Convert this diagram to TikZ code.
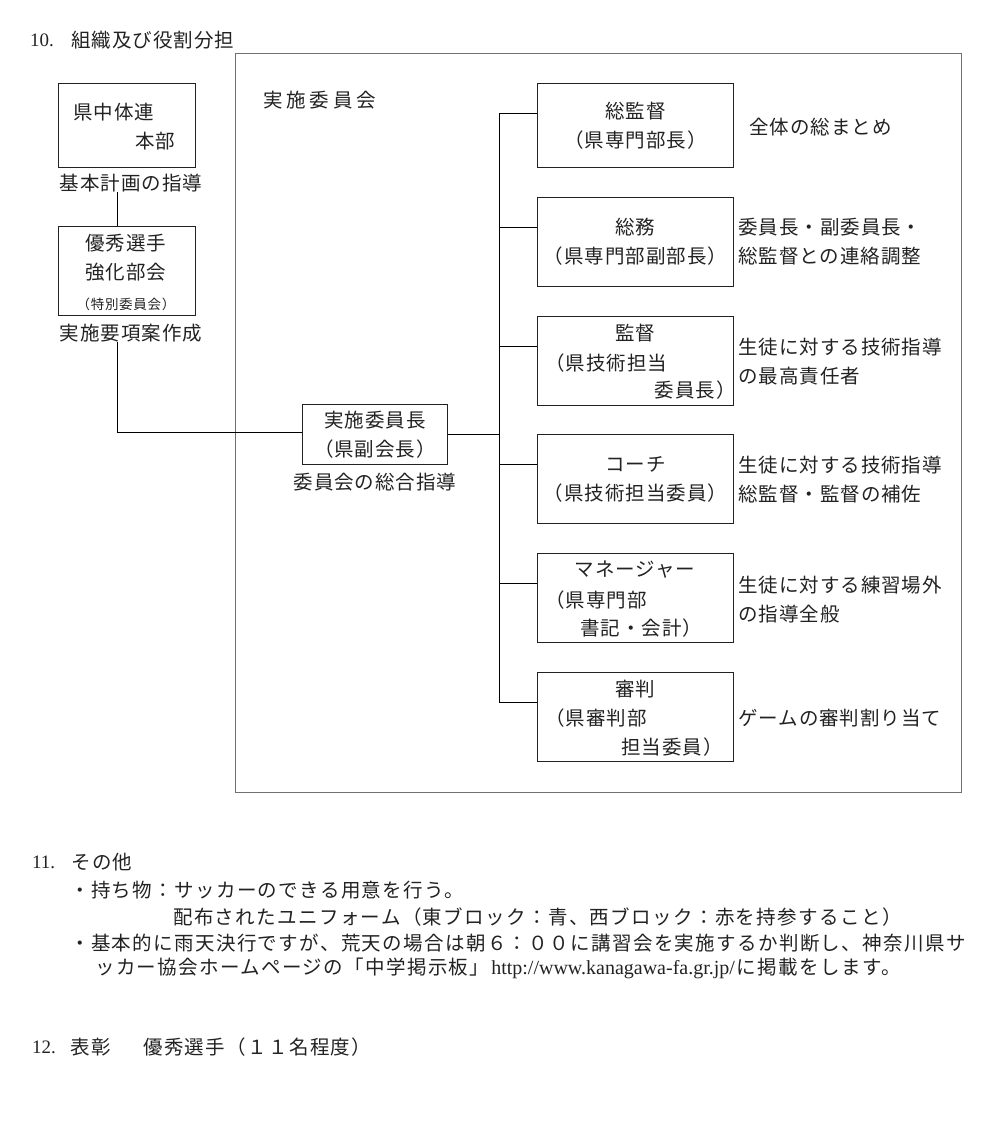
\documentclass[tikz,border=0pt]{standalone}
\usepackage{fontspec}
\usepackage{tikz}
\usetikzlibrary{positioning}
\setmainfont{Liberation Serif}
\newfontfamily\jp{Noto Sans CJK JP}[LetterSpace=5]
\newfontfamily\jpbody{Noto Sans CJK JP}[LetterSpace=7]
\newfontfamily\jpwide{Noto Sans CJK JP}[LetterSpace=20]
\definecolor{inkgray}{HTML}{222222}
\definecolor{framegray}{HTML}{707070}
\newcommand{\latin}[1]{{\rmfamily\fontsize{19}{23}\selectfont #1}}
\tikzset{
  orgbox/.style={draw=inkgray,line width=0.9pt,anchor=north west,inner sep=0pt,
    minimum width=196pt,minimum height=89pt,align=center},
  txt/.style={inner sep=0pt,text=inkgray,font=\jp\fontsize{19.5}{29}\selectfont},
  txtbody/.style={txt,font=\jpbody\fontsize{19.5}{29}\selectfont},
  txtwide/.style={txt,font=\jpwide\fontsize{19.5}{29}\selectfont},
  txtsmall/.style={txt,font=\jp\fontsize{13.5}{16}\selectfont},
  link/.style={draw=black,line width=0.9pt},
}

\begin{document}
\begin{tikzpicture}[x=1pt,y=-1pt]
  \useasboundingbox (0,0) rectangle (1000,1144);
  % 10. heading
  \node[txt,anchor=west] (h10num) at (30,40) {\latin{10.}};
  \node[txt,anchor=west] (h10) at (71,40) {組織及び役割分担};
  % committee frame
  \node[draw=framegray,line width=1.2pt,anchor=north west,inner sep=0pt,
    minimum width=726pt,minimum height=739pt] (frame) at (235,53) {};
  \node[txtwide,anchor=west] (jikko) at (263,100) {実施委員会};
  % left column
  \node[orgbox,minimum width=137pt,minimum height=84pt] (honbu) at (58,83) {};
  \node[txt,anchor=west] (honbu1) at (73,112) {県中体連};
  \node[txt,anchor=west] (honbu2) at (135,141) {本部};
  \node[txt] (kihon) at (131,183) {基本計画の指導};
  \node[orgbox,minimum width=137pt,minimum height=89pt] (kyoka) at (58,226) {};
  \node[txt] (kyoka1) at (126,243) {優秀選手};
  \node[txt] (kyoka2) at (126,272) {強化部会};
  \node[txtsmall] (kyoka3) at (126,304) {（特別委員会）};
  \node[txt] (yoko) at (131,333) {実施要項案作成};
  % chairman
  \node[orgbox,txt,minimum width=145pt,minimum height=60pt] (chair) at (302,404) {実施委員長\\（県副会長）};
  \node[txt] (chairnote) at (375,482) {委員会の総合指導};
  % roles
  \node[orgbox,txt,minimum height=84pt] (role1) at (537,83) {総監督\\（県専門部長）};
  \node[orgbox,txt] (role2) at (537,197) {総務\\（県専門部副部長）};
  \node[orgbox] (role3) at (537,316) {};
  \node[txt] (role3a) at (635,333) {監督};
  \node[txt,anchor=west] (role3b) at (545,363) {（県技術担当};
  \node[txt,anchor=east] (role3c) at (736,390) {委員長）};
  \node[orgbox,txt] (role4) at (537,434) {コーチ\\（県技術担当委員）};
  \node[orgbox] (role5) at (537,553) {};
  \node[txt] (role5a) at (635,570) {マネージャー};
  \node[txt,anchor=west] (role5b) at (545,600) {（県専門部};
  \node[txt,anchor=west] (role5c) at (580,628) {書記・会計）};
  \node[orgbox] (role6) at (537,672) {};
  \node[txt] (role6a) at (635,689) {審判};
  \node[txt,anchor=west] (role6b) at (545,718) {（県審判部};
  \node[txt,anchor=west] (role6c) at (621,747) {担当委員）};
  % duties
  \node[txt,anchor=west] (duty1) at (749,127) {全体の総まとめ};
  \node[txt,anchor=west,align=left] (duty2) at (738,242) {委員長・副委員長・\\総監督との連絡調整};
  \node[txt,anchor=west,align=left] (duty3) at (738,362) {生徒に対する技術指導\\の最高責任者};
  \node[txt,anchor=west,align=left] (duty4) at (738,480) {生徒に対する技術指導\\総監督・監督の補佐};
  \node[txt,anchor=west,align=left] (duty5) at (738,600) {生徒に対する練習場外\\の指導全般};
  \node[txt,anchor=west] (duty6) at (738,718) {ゲームの審判割り当て};
  % connectors
  \coordinate (lx) at (117,0);
  \coordinate (bus) at (499,0);
  \coordinate (chairl) at ([yshift=-28pt]chair.north west);
  \coordinate (chairr) at ([yshift=-30pt]chair.north east);
  \draw[link] (kihon.south -| lx) -- (kyoka.north -| lx);
  \draw[link] (yoko.south -| lx) |- (chairl);
  \draw[link] (chairr) -- (chairr -| bus);
  \foreach \i in {1,...,6}{
    \coordinate (br\i) at ([yshift=-30pt]role\i.north west);
    \draw[link] (br\i -| bus) -- (br\i);
  }
  \draw[link] (br1 -| bus) -- (br6 -| bus);
  % 11. others
  \node[txt,anchor=west] (h11num) at (32,862) {\latin{11.}};
  \node[txtbody,anchor=west] (h11) at (71,862) {その他};
  \node[txtbody,anchor=west] (motimono) at (70,890) {・持ち物：サッカーのできる用意を行う。};
  \node[txtbody,anchor=west] (uniform) at (173,917) {配布されたユニフォーム（東ブロック：青、西ブロック：赤を持参すること）};
  \node[txtbody,anchor=west] (rain1) at (70,943) {・基本的に雨天決行ですが、荒天の場合は朝６：００に講習会を実施するか判断し、神奈川県サ};
  \node[txtbody,anchor=west] (rain2) at (95,968) {ッカー協会ホームページの「中学掲示板」\kern2pt{\rmfamily\fontsize{20}{24}\selectfont http://www.kanagawa-fa.gr.jp/}\kern2pt に掲載をします。};
  % 12. award
  \node[txt,anchor=west] (h12num) at (32,1047) {\latin{12.}};
  \node[txtbody,anchor=west] (h12) at (70,1047) {表彰};
  \node[txtbody,anchor=west] (award) at (143,1047) {優秀選手（１１名程度）};
\end{tikzpicture}
\end{document}
